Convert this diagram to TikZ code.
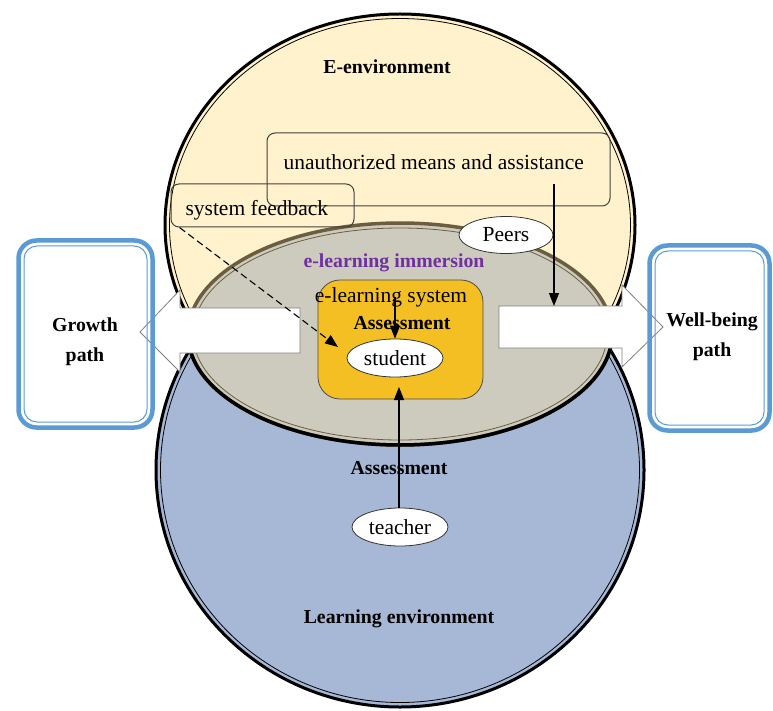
\documentclass[tikz,border=0pt]{standalone}
\usepackage{fontspec}
\setmainfont{Liberation Serif}
\usepackage{xcolor}
\usetikzlibrary{arrows.meta,shapes.geometric}
\definecolor{eenvfill}{HTML}{FFF2CC}
\definecolor{lenvfill}{HTML}{A6B8D5}
\definecolor{immfill}{HTML}{CDCBBD}
\definecolor{immedge}{HTML}{6B5E40}
\definecolor{sysfill}{HTML}{F3BF22}
\definecolor{immtext}{HTML}{7030A0}
\definecolor{pathblue}{HTML}{5B9BD5}

\begin{document}
\begin{tikzpicture}[x=1pt,y=-1pt,every node/.style={font=\fontsize{21.5}{30}\selectfont},
  bold/.style={font=\fontsize{19.8}{30}\selectfont\bfseries,align=center},
  oval/.style={ellipse,draw=black!80,fill=white,line width=0.8pt,minimum width=96pt,minimum height=38pt,inner sep=0pt},
  panel/.style={draw=black!75,line width=1pt,rounded corners=8pt,inner sep=0pt},
  link/.style={line width=1.1pt,-{Triangle[length=13pt,width=10pt]}},
  bigarrow/.style={fill=white,draw=gray,line width=0.8pt}]
\useasboundingbox (0,0) rectangle (773,711);
\fill[white] (0,0) rectangle (773,711);
\fill[lenvfill] (400,470) ellipse [x radius=244, y radius=237];
\draw[line width=3pt] (400,470) ellipse [x radius=244, y radius=237];
\draw[line width=0.8pt] (400,470) ellipse [x radius=239.5, y radius=232.5];
\fill[eenvfill] (400,225) ellipse [x radius=235, y radius=211];
\draw[line width=3pt] (400,225) ellipse [x radius=235, y radius=211];
\draw[line width=0.8pt] (400,225) ellipse [x radius=230.5, y radius=206.5];
\fill[immfill] (400,334) ellipse [x radius=212, y radius=111];
\draw[immedge,line width=3.5pt] (400,334) ellipse [x radius=212, y radius=111];
\draw[line width=3.5pt] (612,334) arc [start angle=0, end angle=180, x radius=212, y radius=111];
\draw[immedge,line width=0.8pt] (400,334) ellipse [x radius=207, y radius=106];
\filldraw[fill=sysfill,draw=black!70,line width=0.8pt,rounded corners=22pt] (318,280) rectangle (483,399);

\node[bold] (eenv) at (387,67) {E-environment};
\node[panel,minimum width=343pt,minimum height=73pt] (uabox) at (438.5,169.5) {};
\node[anchor=west] (ua) at (280,162) {unauthorized means and assistance};
\node[panel,minimum width=183pt,minimum height=43pt] (fbbox) at (262.5,205.5) {};
\node[anchor=west] (fb) at (182,210) {system feedback};
\node[oval,minimum width=94pt,minimum height=37pt] (peers) at (506,235) {Peers};
\node[bold,text=immtext] (immersion) at (394,263) {e-learning immersion};
\node (elsys) at (391,297) {e-learning system};
\node[bold] (innerassess) at (402,323) {Assessment};
\node[oval] (student) at (395,358) {student};
\node[bold] (outerassess) at (399,468) {Assessment};
\node[oval] (teacher) at (400,527) {teacher};
\node[bold] (lenv) at (399,619) {Learning environment};

\coordinate (uastart) at (554,184);
\coordinate (rtop) at (554,306);
\coordinate (fbend) at (338,347);
\coordinate (tend) at (399,387);

\draw[link] (elsys.center -| student.north) -- (student.north);
\draw[link] (teacher.north -| tend) -- (tend);

\draw[bigarrow] (140,332) -- (180,290) -- (180,308) -- (300,308) -- (300,353) -- (180,353) -- (180,372) -- cycle;
\draw[bigarrow] (663,327) -- (622,285) -- (622,306) -- (499,306) -- (499,348) -- (622,348) -- (622,367) -- cycle;

\draw[link,dash pattern=on 7pt off 4pt] ([xshift=9pt]fbbox.south west) -- (fbend);
\draw[link] (uastart) -- (rtop);

\draw[pathblue,line width=4.5pt,rounded corners=18pt] (18.5,240.5) rectangle (152.5,427.5);
\draw[pathblue,line width=1pt,rounded corners=13pt] (24,246) rectangle (147,422);
\node[bold] (growth) at (85,342) {Growth\\path};
\draw[pathblue,line width=4.5pt,rounded corners=18pt] (649.5,245.5) rectangle (769.5,430.5);
\draw[pathblue,line width=1pt,rounded corners=13pt] (655,251) rectangle (764,425);
\node[bold] (wellbeing) at (712,337) {Well-being\\path};
\end{tikzpicture}
\end{document}
